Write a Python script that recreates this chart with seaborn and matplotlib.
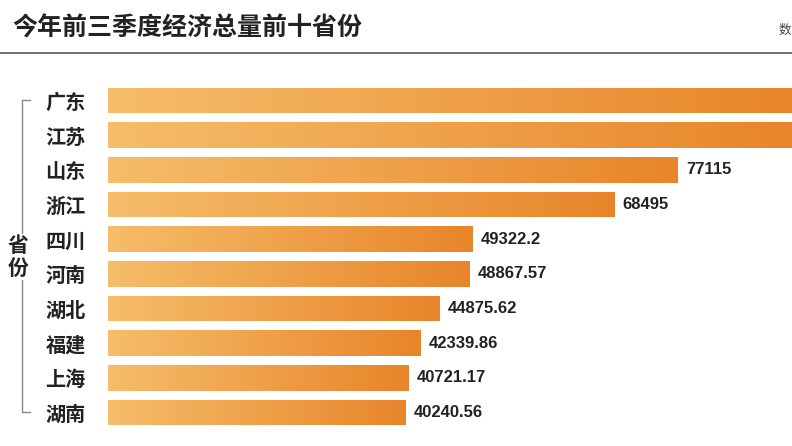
import matplotlib
matplotlib.use("Agg")
import matplotlib.pyplot as plt
import seaborn as sns
import numpy as np
import pandas as pd
from matplotlib.colors import LinearSegmentedColormap

provinces = ["广东", "江苏", "山东", "浙江", "四川", "河南", "湖北", "福建", "上海", "湖南"]
values = [96161.9, 94000.0, 77115, 68495, 49322.2, 48867.57, 44875.62, 42339.86, 40721.17, 40240.56]
labels = ["", "", "77115", "68495", "49322.2", "48867.57", "44875.62", "42339.86", "40721.17", "40240.56"]
title = "今年前三季度经济总量前十省份"

sns.set_theme(style="white")
plt.rcParams['font.family'] = ['Noto Sans CJK SC', 'DejaVu Sans']

df = pd.DataFrame({"省份": provinces, "值": values})
fig = plt.figure(figsize=(7.92, 4.46), dpi=100)
fig.patch.set_facecolor("white")
W, H = 792, 446
ax = fig.add_axes([108/W, 1-430/H, 1-108/W, (430-83)/H])
sns.barplot(data=df, y="省份", x="值", ax=ax, color="#ec9235", width=0.74, orient="h")
xmax = 684/570*77115
ax.set_xlim(0, xmax)
ax.set_ylim(9.5, -0.5)

cmap = LinearSegmentedColormap.from_list("g", ["#f6bd6a", "#e8852a"])
grad = np.linspace(0, 1, 256).reshape(1, -1)
for p in ax.patches:
    x0, y0 = p.get_x(), p.get_y()
    w, h = p.get_width(), p.get_height()
    im = ax.imshow(grad, cmap=cmap, extent=[x0, x0 + min(w, xmax), y0 + h, y0],
                   aspect="auto", zorder=p.get_zorder() + 0.1)
    im.set_clip_path(p)
ax.set_xlim(0, xmax)
ax.set_ylim(9.5, -0.5)

for i, (v, lab) in enumerate(zip(values, labels)):
    if lab:
        ax.text(v + xmax*0.012, i, lab, va="center", ha="left", fontsize=12,
                fontweight="bold", color="#222222", family=["Liberation Sans", "DejaVu Sans"])

ax.set_yticks(range(len(provinces)))
ax.set_yticklabels(provinces, fontsize=14.5, fontweight="bold", color="#222222", ha="left")
ax.tick_params(axis="y", length=0, pad=45)
ax.set_xticks([])
ax.set_xlabel("")
ax.set_ylabel("")
for s in ax.spines.values():
    s.set_visible(False)

fig.text(12/W, 1-28/H, title, fontsize=18, fontweight="bold", color="#222222", va="center", ha="left")
fig.text(779/W, 1-30/H, "数", fontsize=9, color="#444444", va="center", ha="left")
fig.add_artist(plt.Line2D([0, 1], [1-53/H, 1-53/H], color="#555555", lw=1.2, transform=fig.transFigure))
# bracket
fig.add_artist(plt.Line2D([22/W, 22/W], [1-100/H, 1-412/H], color="#888888", lw=1, transform=fig.transFigure))
fig.add_artist(plt.Line2D([22/W, 30/W], [1-100/H, 1-100/H], color="#888888", lw=1, transform=fig.transFigure))
fig.add_artist(plt.Line2D([22/W, 30/W], [1-412/H, 1-412/H], color="#888888", lw=1, transform=fig.transFigure))
fig.text(18/W, 1-257/H, "省\n份", fontsize=15, fontweight="bold", color="#222222", va="center", ha="center",
         linespacing=1.1, bbox=dict(facecolor="white", edgecolor="none", pad=1))

fig.savefig("out.png", dpi=100, facecolor="white")
